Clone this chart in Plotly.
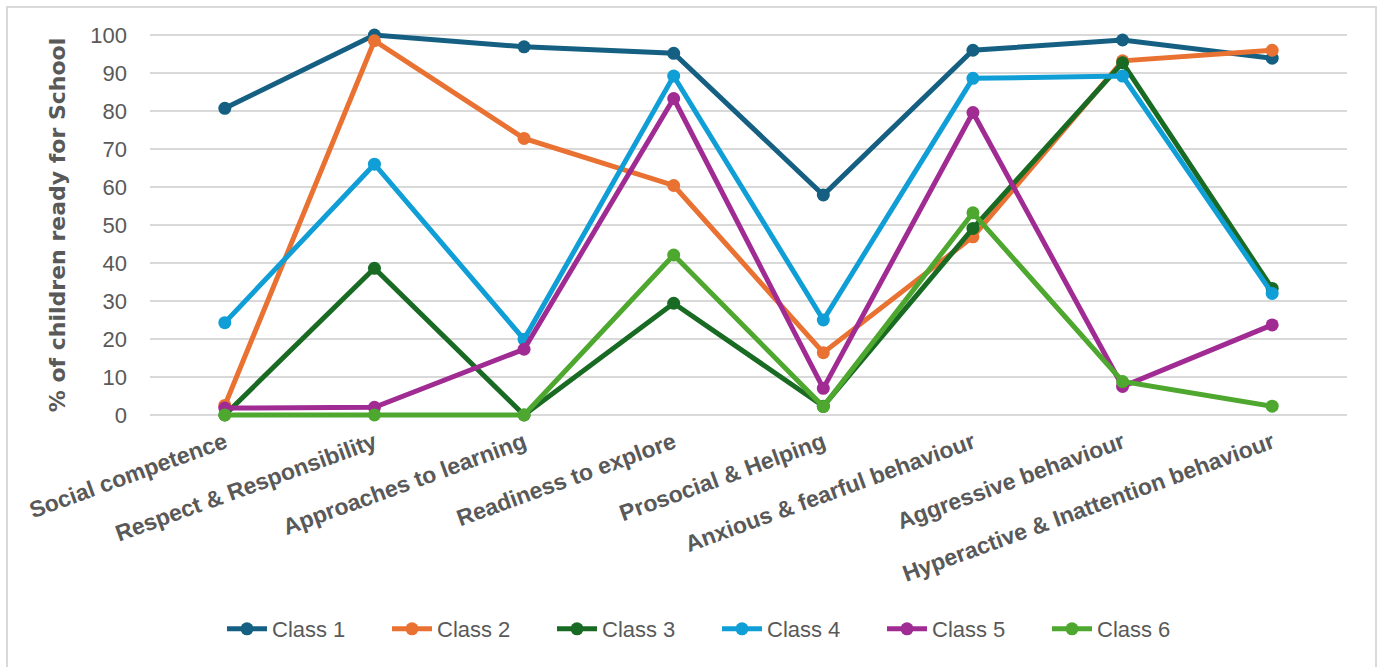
import plotly.graph_objects as go

categories = ["Social competence", "Respect & Responsibility", "Approaches to learning",
              "Readiness to explore", "Prosocial & Helping", "Anxious & fearful behaviour",
              "Aggressive behaviour", "Hyperactive & Inattention behaviour"]

class1 = [80.7, 100.0, 96.9, 95.2, 57.9, 96.0, 98.7, 93.9]
class2 = [2.5, 98.5, 72.8, 60.4, 16.4, 46.9, 93.2, 96.0]
class3 = [0.0, 38.6, 0.0, 29.4, 2.3, 49.1, 92.7, 33.3]
class4 = [24.3, 66.0, 19.9, 89.2, 25.0, 88.6, 89.2, 32.0]
class5 = [1.8, 2.0, 17.3, 83.3, 7.0, 79.6, 7.5, 23.7]
class6 = [0.0, 0.0, 0.0, 42.1, 2.2, 53.2, 8.8, 2.3]

series_names = ["Class 1", "Class 2", "Class 3", "Class 4", "Class 5", "Class 6"]
series_values = [class1, class2, class3, class4, class5, class6]
colors = ["#156082", "#E97132", "#196B24", "#0F9ED5", "#A02B93", "#4EA72E"]

y_ticks = [0, 10, 20, 30, 40, 50, 60, 70, 80, 90, 100]

fig = go.Figure()
for name, vals, col in zip(series_names, series_values, colors):
    fig.add_trace(go.Scatter(
        x=categories, y=vals, name=name, mode="lines+markers",
        line=dict(color=col, width=5),
        marker=dict(color=col, size=13),
        cliponaxis=False,
    ))

W, H = 1382, 667
L, R = 150, 35
T0, B0 = 35, 252  # pixel positions for 100 and 0
lo, hi = -0.8, 100.8
ppu = (415 - 35) / 100.0
t = T0 - (hi - 100) * ppu
b = B0 - (0 - lo) * ppu
plot_h = H - t - b

def px_to_paper_x(px):
    return (px - L) / (W - L - R)

def px_to_paper_y(py):
    return (H - b - py) / plot_h

fig.update_layout(
    width=W, height=H,
    margin=dict(l=L, r=R, t=t, b=b, autoexpand=False),
    paper_bgcolor="white", plot_bgcolor="white",
    font=dict(family="Liberation Sans, Arial, sans-serif", color="#595959"),
    showlegend=True,
    legend=dict(
        orientation="h", xref="container", yref="container",
        x=0.5 + 26 / 1382, xanchor="center", y=0.057, yanchor="middle",
        font=dict(size=22, color="#595959"),
        entrywidth=110, itemwidth=40, traceorder="normal",
    ),
    xaxis=dict(
        type="category", range=[-0.5, len(categories) - 0.5],
        tickangle=-20, showgrid=False, zeroline=False,
        showline=False, ticks="", automargin=False,
        tickfont=dict(size=23, color="#595959", weight="bold"),
        ticklabelstandoff=6,
    ),
    yaxis=dict(
        range=[lo, hi], tickvals=y_ticks, showgrid=True, gridcolor="#D9D9D9",
        gridwidth=2, zeroline=False, showline=False, ticks="", automargin=False,
        tickfont=dict(size=22, color="#595959"),
        ticklabelstandoff=22,
        title=dict(text="% of children ready for School",
                   font=dict(size=22, color="#595959", family="DejaVu Sans", weight="bold"),
                   standoff=18),
    ),
    shapes=[dict(
        type="rect", xref="paper", yref="paper",
        x0=px_to_paper_x(7), x1=px_to_paper_x(1376),
        y0=px_to_paper_y(675), y1=px_to_paper_y(7),
        line=dict(color="#D9D9D9", width=2), fillcolor="rgba(0,0,0,0)", layer="below",
    )],
)

fig.write_html("out.html")
